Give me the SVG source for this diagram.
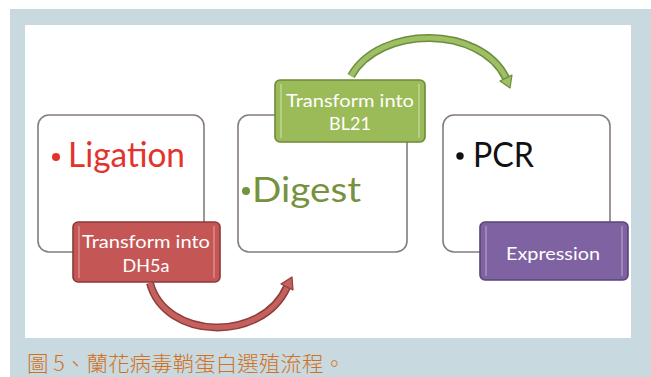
<svg xmlns="http://www.w3.org/2000/svg" width="651" height="377" viewBox="0 0 651 377">
  <style>
    .frame { fill: #ffffff; stroke: #857b7c; stroke-width: 1.6; }
    .big { font-family: Lato, "Liberation Sans", sans-serif; font-size: 34px; }
    .small { font-family: Lato, "Liberation Sans", sans-serif; font-size: 18px; fill: #ffffff; text-anchor: middle; }
    .caption { font-family: "Noto Sans CJK TC", sans-serif; font-size: 21px; font-weight: 300; fill: #d2701e; }
    .edge { fill: none; }
  </style>

  <!-- page background and white panel -->
  <rect x="0" y="0" width="651" height="377" fill="#ffffff"/>
  <rect x="10" y="9" width="641" height="368" fill="#c8d9df"/>
  <rect x="25" y="25" width="606" height="313" fill="#ffffff"/>

  <!-- curved step arrows -->
  <g id="connectors">
    <g id="arrow-red">
      <path class="edge" d="M150,283 C165,340 262,343 287,287" stroke="#8e3d3b" stroke-width="8"/>
      <path class="edge" d="M150,283 C165,340 262,343 287,287" stroke="#c4605d" stroke-width="5"/>
      <polygon points="292,277 293,290 281,284" fill="#c4605d" stroke="#8e3d3b" stroke-width="1.2" stroke-linejoin="round"/>
    </g>
    <g id="arrow-green">
      <path class="edge" d="M351,76 C380,25 480,25 506,78" stroke="#6f8c3e" stroke-width="8"/>
      <path class="edge" d="M351,76 C380,25 480,25 506,78" stroke="#9cc063" stroke-width="5"/>
      <polygon points="510,88 512,75 500,81" fill="#9cc063" stroke="#6f8c3e" stroke-width="1.2" stroke-linejoin="round"/>
    </g>
  </g>

  <!-- main steps -->
  <g id="node-ligation">
    <rect class="frame" x="38" y="115" width="166" height="137" rx="11"/>
    <circle cx="56" cy="157" r="4" fill="#e2332c"/>
    <text class="big" x="68" y="167" fill="#e2332c" textLength="117" lengthAdjust="spacingAndGlyphs">Ligation</text>
  </g>

  <g id="node-digest">
    <rect class="frame" x="238" y="115" width="169" height="137" rx="11"/>
    <circle cx="246" cy="191" r="4" fill="#76923c"/>
    <text class="big" x="252" y="202" fill="#76923c" textLength="109" lengthAdjust="spacingAndGlyphs">Digest</text>
  </g>

  <g id="node-pcr">
    <rect class="frame" x="443" y="115" width="167" height="137" rx="11"/>
    <circle cx="460" cy="156" r="3.7" fill="#111111"/>
    <text class="big" x="473" y="167" fill="#111111" textLength="61" lengthAdjust="spacingAndGlyphs">PCR</text>
  </g>

  <!-- transformation / expression tags -->
  <g id="node-dh5a">
    <rect x="73" y="222" width="147" height="60" rx="5" fill="#c45756" stroke="#8c3a39" stroke-width="1.6"/>
    <line x1="79" y1="226" x2="79" y2="278" stroke="#e19a98" stroke-width="1.2"/>
    <line x1="214" y1="226" x2="214" y2="278" stroke="#e19a98" stroke-width="1.2"/>
    <text class="small" x="146" y="248" textLength="128" lengthAdjust="spacingAndGlyphs">Transform into</text>
    <text class="small" x="146" y="272">DH5a</text>
  </g>

  <g id="node-bl21">
    <rect x="275" y="80" width="150" height="62" rx="5" fill="#9bbb59" stroke="#6d8a3a" stroke-width="1.6"/>
    <line x1="281" y1="84" x2="281" y2="138" stroke="#c8dca0" stroke-width="1.2"/>
    <line x1="419" y1="84" x2="419" y2="138" stroke="#c8dca0" stroke-width="1.2"/>
    <text class="small" x="350" y="107" textLength="128" lengthAdjust="spacingAndGlyphs">Transform into</text>
    <text class="small" x="350" y="130">BL21</text>
  </g>

  <g id="node-expression">
    <rect x="480" y="222" width="148" height="58" rx="5" fill="#7f62a1" stroke="#5a4477" stroke-width="1.6"/>
    <line x1="486" y1="226" x2="486" y2="276" stroke="#b3a1c9" stroke-width="1.2"/>
    <line x1="622" y1="226" x2="622" y2="276" stroke="#b3a1c9" stroke-width="1.2"/>
    <text class="small" x="553" y="260" textLength="94" lengthAdjust="spacingAndGlyphs">Expression</text>
  </g>

  <!-- figure caption -->
  <text class="caption" x="27" y="371" textLength="318" lengthAdjust="spacingAndGlyphs">圖 5、蘭花病毒鞘蛋白選殖流程。</text>
</svg>
